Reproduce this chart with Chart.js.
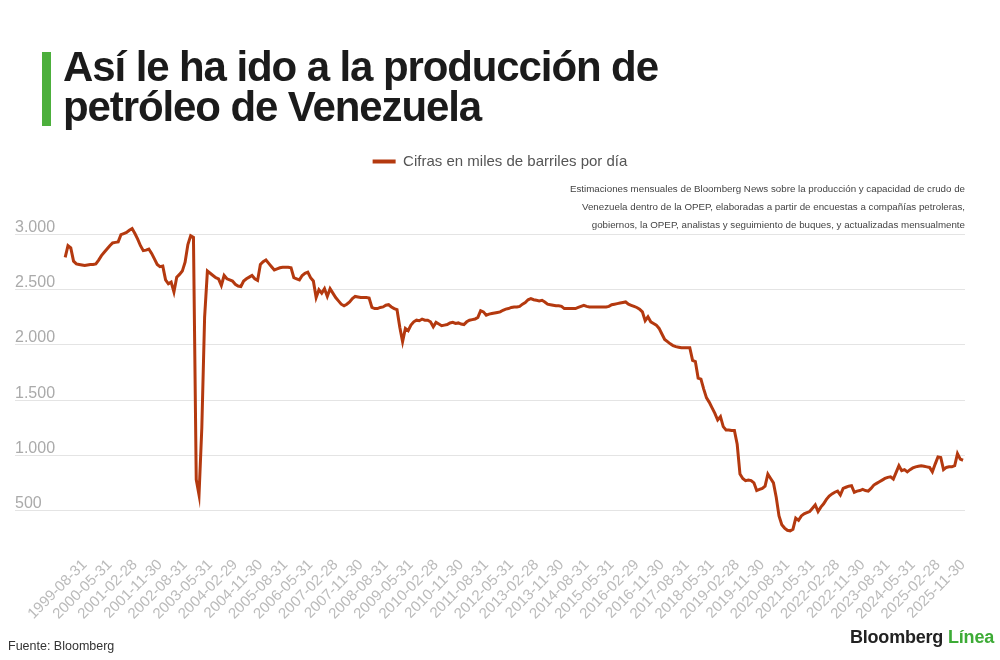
<!DOCTYPE html>
<html lang="es">
<head>
<meta charset="utf-8">
<title>Producción de petróleo de Venezuela</title>
<script src="https://cdn.jsdelivr.net/npm/chart.js@4.4.1/dist/chart.umd.min.js"></script>
<style>
    html, body { margin: 0; padding: 0; background: #fff; }
    body { position: relative; width: 1000px; height: 660px; overflow: hidden; font-family: "Liberation Sans", Arial, sans-serif; }
    #chart { position: absolute; left: 0; top: 0; }
    .bar { position: absolute; left: 42px; top: 52px; width: 9px; height: 74px; background: #4caf3c; }
    h1 { position: absolute; left: 63px; top: 47px; margin: 0; font-size: 42px; line-height: 40px; font-weight: 700; letter-spacing: -1.1px; color: #1b1b1b; }
    .source { position: absolute; left: 8px; top: 639px; font-size: 12.5px; color: #333; }
    .brand { position: absolute; right: 6px; top: 627px; font-size: 18px; font-weight: 700; color: #222; letter-spacing: -0.2px; }
    .brand span { color: #3dab36; }
</style>
</head>
<body>
<canvas id="chart" width="1000" height="660"></canvas>
<div class="bar"></div>
<h1>Así le ha ido a la producción de<br>petróleo de Venezuela</h1>
<div class="source">Fuente: Bloomberg</div>
<div class="brand">Bloomberg <span>Línea</span></div>

<script>
// Producción mensual estimada (miles de barriles por día), ene-1999 a nov-2025
const firstYear = 1999;
const production = [
    2795, 2900, 2880, 2760, 2735, 2730, 2725, 2720, 2725, 2730, 2730, 2735, // 1999
    2770, 2810, 2840, 2870, 2900, 2925, 2930, 2935, 3000, 3010, 3020, 3040, // 2000
    3055, 3010, 2960, 2900, 2855, 2860, 2870, 2830, 2780, 2730, 2710, 2715, // 2001
    2590, 2555, 2570, 2480, 2615, 2640, 2670, 2750, 2910, 2990, 2975, 780,  // 2002
    640, 1250, 2250, 2670, 2650, 2630, 2610, 2600, 2540, 2630, 2600, 2590,  // 2003
    2580, 2550, 2535, 2530, 2580, 2600, 2615, 2630, 2600, 2585, 2730, 2755, // 2004
    2770, 2740, 2710, 2680, 2690, 2700, 2705, 2705, 2705, 2700, 2610, 2600, // 2005
    2590, 2630, 2650, 2660, 2610, 2580, 2430, 2500, 2470, 2510, 2440, 2510, // 2006
    2470, 2430, 2400, 2370, 2355, 2370, 2390, 2420, 2440, 2435, 2430, 2430, // 2007
    2430, 2425, 2340, 2330, 2330, 2340, 2345, 2360, 2365, 2345, 2330, 2320, // 2008
    2160, 2030, 2150, 2130, 2180, 2210, 2225, 2220, 2235, 2225, 2225, 2210, // 2009
    2165, 2205, 2190, 2175, 2180, 2185, 2200, 2205, 2195, 2200, 2190, 2185, // 2010
    2210, 2225, 2230, 2235, 2250, 2310, 2300, 2270, 2280, 2285, 2290, 2295, // 2011
    2300, 2315, 2325, 2330, 2340, 2345, 2345, 2350, 2370, 2385, 2410, 2420, // 2012
    2410, 2405, 2400, 2405, 2390, 2370, 2365, 2360, 2355, 2355, 2350, 2330, // 2013
    2330, 2330, 2330, 2330, 2340, 2350, 2360, 2350, 2345, 2345, 2345, 2345, // 2014
    2345, 2345, 2345, 2350, 2365, 2370, 2375, 2380, 2385, 2390, 2370, 2360, // 2015
    2350, 2340, 2325, 2300, 2220, 2255, 2210, 2195, 2180, 2150, 2100, 2050, // 2016
    2030, 2010, 1995, 1985, 1980, 1975, 1975, 1975, 1975, 1860, 1850, 1700, // 2017
    1690, 1600, 1520, 1480, 1430, 1380, 1320, 1350, 1260, 1230, 1230, 1225, // 2018
    1225, 1100, 830, 790, 770, 775, 770, 750, 680, 690, 700, 720,           // 2019
    830, 790, 750, 620, 450, 370, 340, 320, 315, 330, 430, 410,             // 2020
    450, 470, 480, 490, 520, 550, 490, 530, 560, 600, 630, 650,             // 2021
    665, 675, 640, 700, 710, 720, 725, 665, 675, 680, 690, 680,             // 2022
    675, 700, 730, 745, 760, 775, 790, 800, 805, 785, 845, 905,             // 2023
    860, 870, 850, 870, 885, 895, 900, 905, 900, 895, 890, 850,             // 2024
    920, 985, 980, 870, 890, 895, 895, 905, 1015, 965, 955                  // 2025
];

// Etiquetas del eje X (cada 9 meses)
const tickLabels = [
    '1999-08-31', '2000-05-31', '2001-02-28', '2001-11-30', '2002-08-31', '2003-05-31',
    '2004-02-29', '2004-11-30', '2005-08-31', '2006-05-31', '2007-02-28', '2007-11-30',
    '2008-08-31', '2009-05-31', '2010-02-28', '2010-11-30', '2011-08-31', '2012-05-31',
    '2013-02-28', '2013-11-30', '2014-08-31', '2015-05-31', '2016-02-29', '2016-11-30',
    '2017-08-31', '2018-05-31', '2019-02-28', '2019-11-30', '2020-08-31', '2021-05-31',
    '2022-02-28', '2022-11-30', '2023-08-31', '2024-05-31', '2025-02-28', '2025-11-30'
];
const yTicks = [500, 1000, 1500, 2000, 2500, 3000];

const subtitleLines = [
    'Estimaciones mensuales de Bloomberg News sobre la producción y capacidad de crudo de',
    'Venezuela dentro de la OPEP, elaboradas a partir de encuestas a compañías petroleras,',
    'gobiernos, la OPEP, analistas y seguimiento de buques, y actualizadas mensualmente'
];

const lineColor = '#b4390f';

// meses 'YYYY-MM' para cada valor
const months = production.map((_, i) => firstYear + Math.floor(i / 12) + '-' + String(i % 12 + 1).padStart(2, '0'));
const tickIndex = tickLabels.map(t => months.indexOf(t.slice(0, 7)));
const labelAt = {};
tickIndex.forEach((idx, k) => { labelAt[idx] = tickLabels[k]; });

const fmt = new Intl.NumberFormat('es-ES', { useGrouping: 'always' });

Chart.defaults.font.family = '"Liberation Sans", Arial, sans-serif';

// the legend sits centred on the page, not on the plot area
const centerLegend = {
    id: 'centerLegend',
    afterLayout(chart) {
        const shift = 500 - (chart.legend.left + chart.legend.right) / 2;
        chart.legend.left += shift;
        chart.legend.right += shift;
    }
};

new Chart(document.getElementById('chart'), {
    type: 'line',
    data: {
        datasets: [{
            label: 'Cifras en miles de barriles por día',
            data: production.map((v, i) => ({ x: i, y: v })),
            borderColor: lineColor,
            backgroundColor: lineColor,
            borderWidth: 3,
            pointRadius: 0,
            tension: 0
        }]
    },
    plugins: [centerLegend],
    options: {
        responsive: false,
        animation: false,
        layout: { padding: { left: 15, right: 35, top: 148, bottom: 22 } },
        plugins: {
            legend: {
                position: 'top',
                weight: 2000,
                labels: {
                    boxWidth: 23,
                    boxHeight: 4,
                    padding: 6,
                    color: '#555',
                    font: { size: 15 },
                    generateLabels: chart => Chart.defaults.plugins.legend.labels.generateLabels(chart)
                        .map(item => Object.assign(item, { lineWidth: 0 }))
                }
            },
            subtitle: {
                display: true,
                text: subtitleLines,
                align: 'end',
                weight: 1500,
                color: '#444',
                font: { size: 9.75, lineHeight: 1.8 },
                padding: { top: 2, bottom: -10 }
            },
            tooltip: { enabled: false }
        },
        scales: {
            x: {
                type: 'linear',
                min: -18,
                max: 322.7,
                grid: { display: false },
                border: { display: false },
                afterBuildTicks: scale => { scale.ticks = tickIndex.map(v => ({ value: v })); },
                afterFit: scale => { scale.height = 100; },
                ticks: {
                    autoSkip: false,
                    minRotation: 45,
                    maxRotation: 45,
                    padding: 10,
                    color: '#bbb',
                    font: { size: 15 },
                    callback: v => labelAt[v] || ''
                }
            },
            y: {
                min: 250,
                max: 3100,
                border: { display: false },
                grid: { color: '#e4e4e4', drawTicks: false },
                afterBuildTicks: scale => { scale.ticks = yTicks.map(v => ({ value: v })); },
                ticks: {
                    mirror: true,
                    padding: 0,
                    labelOffset: -7,
                    color: '#aaa',
                    font: { size: 16 },
                    callback: v => fmt.format(v)
                }
            }
        }
    }
});
</script>
</body>
</html>
